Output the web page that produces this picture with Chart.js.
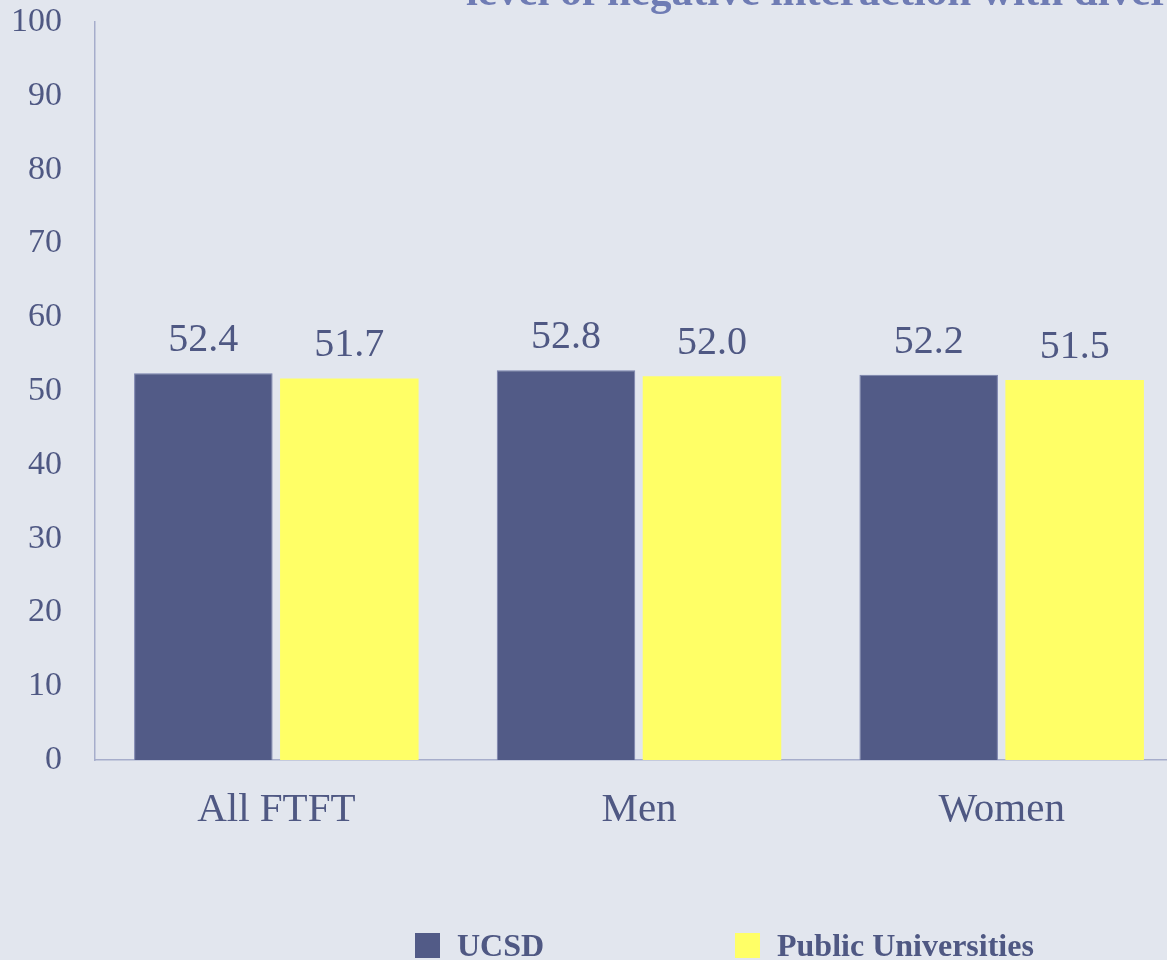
<!DOCTYPE html>
<html>
<head>
<meta charset="utf-8">
<script src="https://cdn.jsdelivr.net/npm/chart.js@4"></script>
<style>
  html, body { margin: 0; padding: 0; background: #E2E6EE; overflow: hidden; }
  #wrap { width: 1190px; height: 960px; }
</style>
</head>
<body>
<div id="wrap"><canvas id="myChart" width="1190" height="960"></canvas></div>
<script>
const categories = ["All FTFT", "Men", "Women"];
const ucsd = [52.4, 52.8, 52.2];
const publicUnis = [51.7, 52.0, 51.5];
const seriesNames = ["UCSD", "Public Universities"];
const yTicks = [0, 10, 20, 30, 40, 50, 60, 70, 80, 90, 100];
const titleText = "level of negative interaction with diverse peers";

const textColor = "#4F5883";
const axisColor = "#A6ADCB";

// title sits half out of the picture, like the reference
const titlePlugin = {
  id: "cutTitle",
  afterDraw(chart) {
    const c = chart.ctx;
    c.save();
    c.font = "bold 43px 'Liberation Serif'";
    c.fillStyle = "#6F7CB4";
    c.textAlign = "left";
    c.textBaseline = "alphabetic";
    c.fillText(titleText, 466, 5);
    c.restore();
  }
};

// numbers above each bar
const valuePlugin = {
  id: "values",
  afterDatasetsDraw(chart) {
    const c = chart.ctx;
    c.save();
    c.font = "40px 'Liberation Serif'";
    c.fillStyle = textColor;
    c.textAlign = "center";
    c.textBaseline = "alphabetic";
    chart.data.datasets.forEach((ds, i) => {
      chart.getDatasetMeta(i).data.forEach((bar, j) => {
        c.fillText(ds.data[j].toFixed(1), bar.x, bar.y - 22);
      });
    });
    c.restore();
  }
};

// legend spaced like the original (wide gap between the two items)
const legendX = [415, 735];
const legendPlugin = {
  id: "wideLegend",
  afterDraw(chart) {
    const c = chart.ctx;
    c.save();
    c.font = "bold 32px 'Liberation Serif'";
    c.textBaseline = "middle";
    c.textAlign = "left";
    chart.data.datasets.forEach((ds, i) => {
      c.fillStyle = ds.backgroundColor;
      c.fillRect(legendX[i], 933, 25, 25);
      c.fillStyle = textColor;
      c.fillText(ds.label, legendX[i] + 42, 948);
    });
    c.restore();
  }
};

const ctx = document.getElementById("myChart").getContext("2d");

new Chart(ctx, {
  type: "bar",
  data: {
    labels: categories,
    datasets: [
      {
        label: seriesNames[0],
        data: ucsd,
        backgroundColor: "#525B87",
        borderColor: "#7880AC",
        borderWidth: 1,
        categoryPercentage: 0.805,
        barPercentage: 0.949
      },
      {
        label: seriesNames[1],
        data: publicUnis,
        backgroundColor: "#FFFF66",
        borderWidth: 0,
        categoryPercentage: 0.805,
        barPercentage: 0.949
      }
    ]
  },
  options: {
    responsive: false,
    animation: false,
    layout: { padding: { top: 22, right: 7, left: 0, bottom: 0 } },
    plugins: {
      legend: { display: false },
      title: { display: false },
      tooltip: { enabled: false }
    },
    scales: {
      x: {
        grid: { display: false, drawTicks: false },
        border: { color: axisColor, width: 1.5 },
        ticks: {
          color: textColor,
          font: { family: "'Liberation Serif'", size: 41 },
          padding: 26
        },
        afterFit: (s) => { s.height = 200; s.paddingLeft = 0; s.paddingRight = 0; }
      },
      y: {
        min: 0,
        max: 100,
        afterBuildTicks: (s) => { s.ticks = yTicks.map(v => ({ value: v })); },
        grid: { display: false, drawTicks: false },
        border: { color: axisColor, width: 1.5 },
        ticks: {
          color: textColor,
          font: { family: "'Liberation Serif'", size: 34 },
          padding: 33
        },
        afterFit: (s) => { s.width = 95; s.paddingTop = 0; s.paddingBottom = 0; }
      }
    }
  },
  plugins: [titlePlugin, valuePlugin, legendPlugin]
});
</script>
</body>
</html>
